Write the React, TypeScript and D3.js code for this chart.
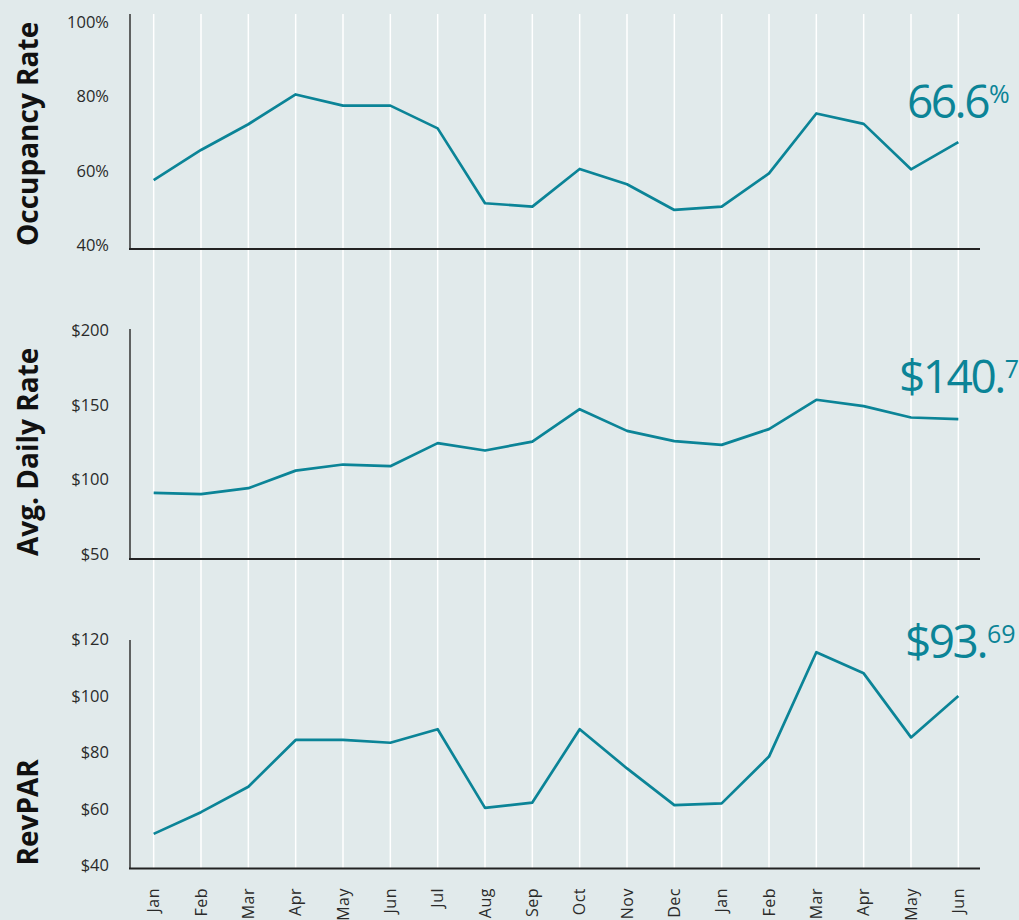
import React from "react";
import * as d3 from "d3";

const months = ["Jan","Feb","Mar","Apr","May","Jun","Jul","Aug","Sep","Oct","Nov","Dec","Jan","Feb","Mar","Apr","May","Jun"];

const occupancy = [57.6,65.7,72.6,80.6,77.6,77.6,71.5,51.4,50.5,60.6,56.5,49.6,50.5,59.4,75.5,72.7,60.5,67.8];
const avgDailyRate = [91.1,90.2,94.2,106.0,110.1,109.0,124.5,119.5,125.5,147.3,132.7,125.8,123.3,133.9,153.6,149.3,141.7,140.6];
const revpar = [51.1,58.8,67.8,84.4,84.4,83.4,88.2,60.3,62.2,88.2,74.3,61.3,61.9,78.5,115.5,108.0,85.3,100.0];

const occTicks = [40,60,80,100];
const adrTicks = [50,100,150,200];
const revparTicks = [40,60,80,100,120];

const titles = ["Occupancy Rate","Avg. Daily Rate","RevPAR"];
const headlineMain = ["66.6","$140.","$93."];
const headlineSup = ["%","76","69"];

const W = 1019, H = 920;
const BG = "#e1eaeb";
const TEAL = "#0b8497";
const FONT = "'Open Sans', 'Noto Sans', sans-serif";

const xLeft = 130, xRight = 982, axisRight = 980;

const panels = [
  { values: occupancy, ticks: occTicks, fmt: (v: number) => `${v}%`, domain: [40,100], range: [245.7,22.2], top: 14, bottom: 249, headX: 907, headBase: 118 },
  { values: avgDailyRate, ticks: adrTicks, fmt: (v: number) => `$${v}`, domain: [50,200], range: [554,330.7], top: 329, bottom: 559, headX: 899, headBase: 393 },
  { values: revpar, ticks: revparTicks, fmt: (v: number) => `$${v}`, domain: [40,120], range: [865.2,639.5], top: 640, bottom: 868.5, headX: 905, headBase: 658 },
];

export default function App() {
  const idx = months.map((_, i) => i);
  const x = d3.scalePoint<number>().domain(idx).range([xLeft, xRight]).padding(0.5);
  const gridTop = panels[0].top;
  const gridBottom = panels[2].bottom;

  return (
    <svg width={W} height={H} style={{ position: "absolute", left: 0, top: 0, display: "block" }} fontFamily={FONT}>
      <rect x={0} y={0} width={W} height={H} fill={BG} />
      {idx.map((i) => (
        <line key={"g" + i} x1={x(i)} x2={x(i)} y1={gridTop} y2={gridBottom} stroke="#ffffff" strokeWidth={1.5} />
      ))}
      {panels.map((p, pi) => {
        const y = d3.scaleLinear().domain(p.domain).range(p.range);
        const line = d3.line<number>().x((_, i) => x(i) as number).y((d) => y(d));
        return (
          <g key={"p" + pi}>
            <line x1={xLeft} x2={xLeft} y1={p.top} y2={p.bottom} stroke="#333" strokeWidth={1.5} />
            <line x1={xLeft - 1} x2={axisRight} y1={p.bottom} y2={p.bottom} stroke="#222" strokeWidth={2} />
            {p.ticks.map((t) => (
              <text key={"t" + t} x={109} y={y(t)} dy="0.35em" textAnchor="end" fontSize={16.5} fill="#2a2a2a">{p.fmt(t)}</text>
            ))}
            <text
              transform={`translate(${38},${p.bottom - 3}) rotate(-90)`}
              textAnchor="start"
              fontSize={28}
              fontWeight={700}
              fill="#111"
            >{titles[pi]}</text>
            <path d={line(p.values) || ""} fill="none" stroke={TEAL} strokeWidth={2.7} strokeLinejoin="round" />
            <text x={p.headX} y={p.headBase} fill={TEAL} fontWeight={400}>
              <tspan fontSize={46} letterSpacing={-2.5}>{headlineMain[pi]}</tspan>
              <tspan fontSize={25} dy={-15} dx={1}>{headlineSup[pi]}</tspan>
            </text>
          </g>
        );
      })}
      {idx.map((i) => (
        <text
          key={"m" + i}
          transform={`translate(${x(i)},${888}) rotate(-90)`}
          textAnchor="end"
          dy="0.35em"
          fontSize={16}
          letterSpacing={0.5}
          fill="#2a2a2a"
        >{months[i]}</text>
      ))}
    </svg>
  );
}
